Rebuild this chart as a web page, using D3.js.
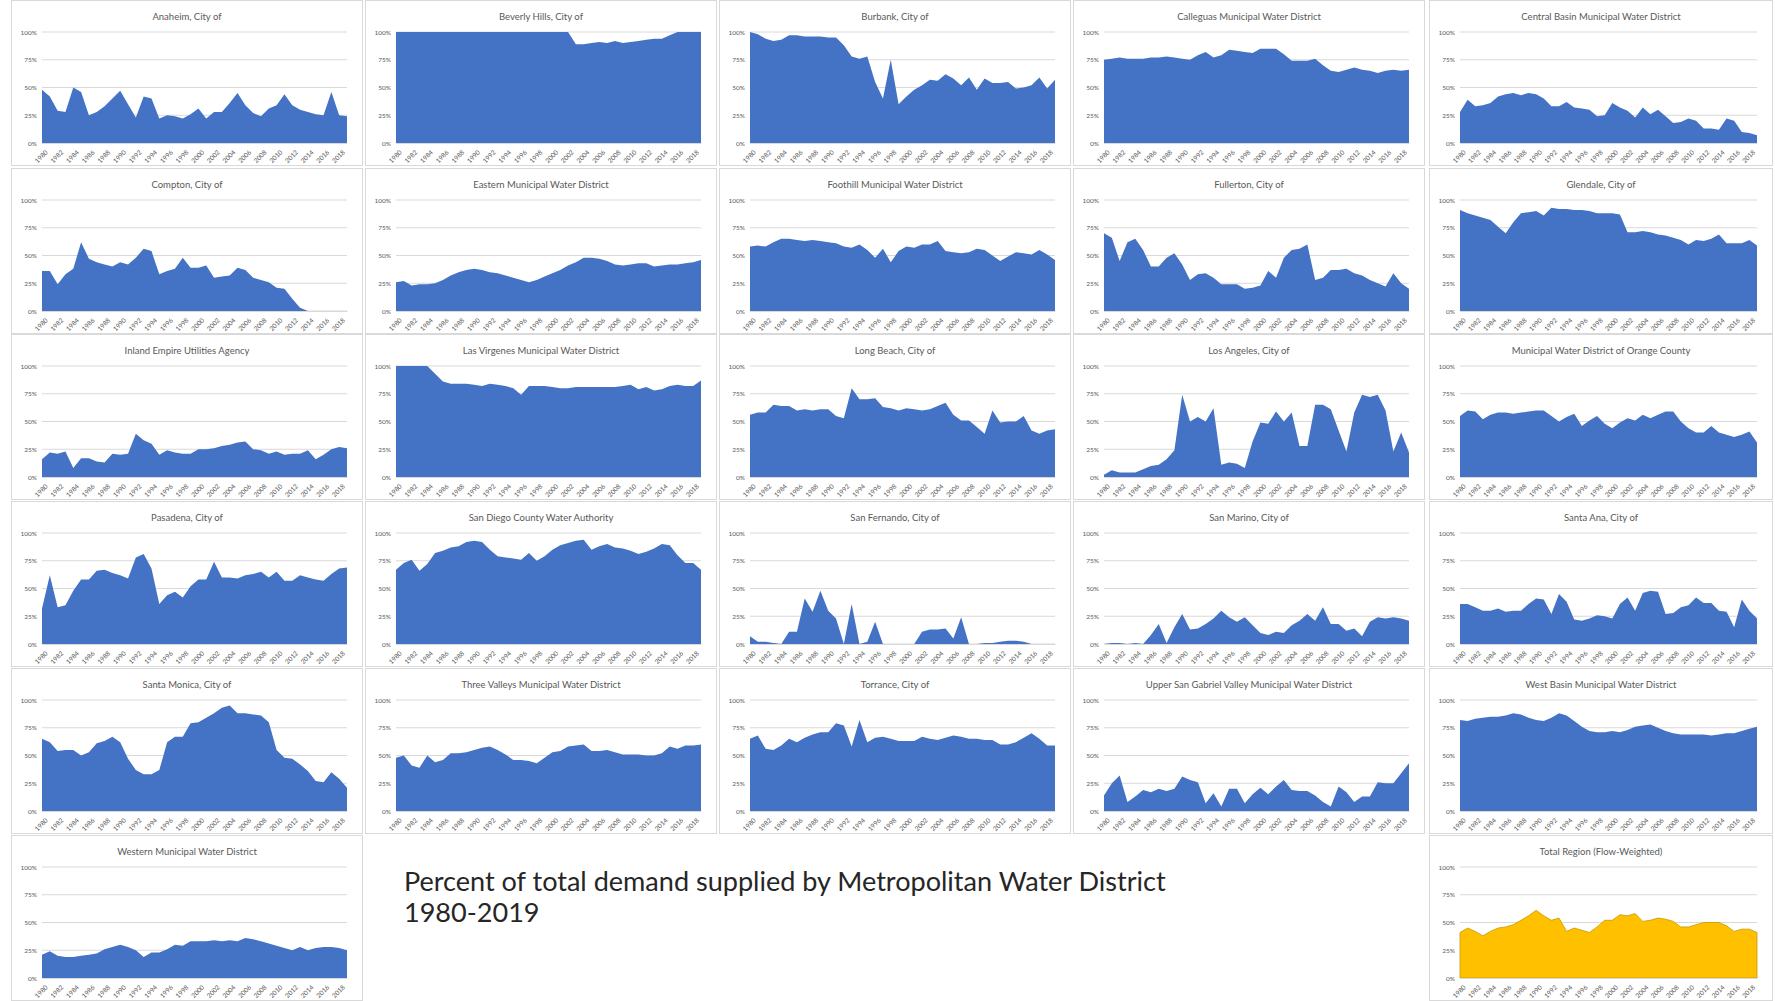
<!DOCTYPE html>
<html><head><meta charset="utf-8">
<script src="https://cdn.jsdelivr.net/npm/d3@7"></script>
<style>body{margin:0;background:#fff;} svg{display:block;}</style>
</head><body>
<script>
const years = [1980,1981,1982,1983,1984,1985,1986,1987,1988,1989,1990,1991,1992,1993,1994,1995,1996,1997,1998,1999,
2000,2001,2002,2003,2004,2005,2006,2007,2008,2009,2010,2011,2012,2013,2014,2015,2016,2017,2018,2019];
const yTicks = [0, 25, 50, 75, 100];

const anaheim = [48,42,29,28,50,46,25,28,33,40,47,35,23,42,40,22,25,24,22,26,31,22,28,28,36,45,34,27,24,31,34,44,34,30,28,26,25,46,25,24];
const beverlyHills = [100,100,100,100,100,100,100,100,100,100,100,100,100,100,100,100,100,100,100,100,100,100,100,89,89,90,91,90,92,90,91,92,93,94,94,97,100,100,100,100];
const burbank = [100,98,94,92,93,97,97,96,96,96,95,95,88,78,76,78,55,40,75,35,42,48,52,57,56,62,58,52,59,48,58,54,54,55,49,50,52,59,49,57];
const calleguas = [75,76,77,76,76,76,77,77,78,77,76,75,79,82,77,79,84,83,82,81,85,85,85,80,74,74,74,76,70,65,64,66,68,66,65,63,65,66,65,66];
const centralBasin = [28,39,33,34,36,42,44,45,43,45,44,40,33,33,37,32,31,30,24,25,36,32,29,23,32,26,30,24,18,19,22,20,13,13,12,22,20,10,9,7];
const compton = [36,36,24,33,38,62,47,44,42,40,44,42,48,56,54,33,36,38,48,39,39,41,30,31,32,39,37,30,28,26,21,20,11,3,0,0,0,0,0,0];
const eastern = [26,27,23,24,24,25,28,32,35,37,38,37,35,34,32,30,28,26,28,31,34,37,41,44,48,48,47,45,42,41,42,43,43,40,41,42,42,43,44,46];
const foothill = [58,59,58,62,65,65,64,63,64,63,62,61,58,57,60,55,48,56,44,54,58,57,60,60,63,54,53,52,53,56,55,50,45,49,53,52,51,55,51,46];
const fullerton = [70,66,45,62,65,55,40,40,48,52,42,28,33,34,30,24,24,24,20,21,23,36,30,48,55,56,60,28,30,37,37,38,34,32,28,25,22,34,25,20];
const glendale = [91,88,86,84,82,76,70,80,88,89,90,86,93,92,92,91,91,90,88,88,88,87,71,71,72,71,69,68,66,64,60,64,63,65,69,61,61,61,64,59];
const inlandEmpire = [16,22,21,23,8,17,17,14,13,21,20,21,39,33,30,20,24,22,21,21,25,25,26,28,29,31,32,25,24,21,23,20,21,21,24,16,20,25,27,26];
const lasVirgenes = [100,100,100,100,100,93,86,84,84,84,83,82,84,83,82,80,74,82,82,82,81,80,80,81,81,81,81,81,81,82,83,79,81,78,79,82,83,82,82,87];
const longBeach = [56,58,58,65,64,64,60,61,60,61,61,55,53,80,70,70,71,63,62,60,62,61,60,61,64,67,56,51,51,45,39,60,49,50,50,55,42,39,42,43];
const losAngeles = [2,6,4,4,4,7,10,11,16,24,74,50,54,50,62,11,13,12,8,32,49,48,59,50,58,28,28,65,65,61,42,23,58,74,72,74,60,23,40,22];
const orangeCounty = [55,60,59,52,56,58,58,57,58,59,60,60,55,50,54,57,46,51,55,48,44,49,53,51,56,53,56,59,59,50,44,40,40,46,40,38,36,38,41,31];
const pasadena = [32,62,33,35,48,58,58,66,67,64,62,59,78,81,68,36,44,47,42,52,58,58,74,60,60,59,62,63,65,60,65,57,57,62,60,58,57,63,68,69];
const sanDiego = [67,73,76,66,72,82,84,87,88,92,93,92,85,79,78,77,76,82,75,79,85,89,91,93,94,85,88,90,87,86,84,81,83,86,90,89,80,73,73,67];
const sanFernando = [7,2,2,1,0,11,11,41,29,48,30,23,0,36,0,2,20,0,0,0,0,0,11,13,13,14,5,24,0,0,1,1,2,3,3,2,0,0,0,0];
const sanMarino = [0,1,1,0,1,0,8,18,1,15,27,13,14,18,23,30,24,20,24,17,10,8,11,10,17,21,27,21,33,18,18,12,14,7,20,24,23,24,23,21];
const santaAna = [36,36,33,30,30,32,29,30,30,36,41,40,27,45,38,22,21,23,26,25,23,36,42,30,46,48,47,27,28,33,35,42,37,37,30,29,15,40,30,23];
const santaMonica = [65,62,54,55,55,50,53,61,63,67,62,47,37,33,33,37,62,67,67,79,80,84,88,93,95,88,88,87,86,80,55,48,47,42,36,27,26,35,29,21];
const threeValleys = [48,50,41,39,50,44,46,52,52,53,55,57,58,55,51,46,46,45,43,48,53,54,58,59,60,54,54,55,53,51,51,51,50,50,52,58,56,59,59,60];
const torrance = [65,68,56,55,59,65,62,66,69,71,71,79,77,58,82,62,66,67,65,63,63,63,67,65,64,66,68,67,65,65,64,64,60,60,62,66,70,65,59,59];
const upperSanGabriel = [14,25,32,8,13,19,17,20,18,20,31,28,26,7,16,4,20,20,7,15,21,15,22,28,19,18,18,14,8,4,22,17,8,13,13,26,25,25,34,43];
const westBasin = [82,81,83,84,85,85,86,88,87,84,82,81,84,88,86,81,76,72,71,71,72,71,73,76,77,78,75,72,70,69,69,69,69,68,69,70,70,72,74,76];
const western = [21,24,20,19,19,20,21,22,26,28,30,28,25,19,23,23,26,30,29,33,33,33,34,33,34,33,36,35,33,31,29,27,25,28,25,27,28,28,27,25];
const totalRegion = [41,45,42,38,42,45,46,48,52,56,61,56,52,54,42,45,43,41,46,52,52,57,56,58,51,52,54,53,51,46,46,48,50,50,50,47,42,44,44,41];

const titles = ["Anaheim, City of","Beverly Hills, City of","Burbank, City of","Calleguas Municipal Water District","Central Basin Municipal Water District",
"Compton, City of","Eastern Municipal Water District","Foothill Municipal Water District","Fullerton, City of","Glendale, City of",
"Inland Empire Utilities Agency","Las Virgenes Municipal Water District","Long Beach, City of","Los Angeles, City of","Municipal Water District of Orange County",
"Pasadena, City of","San Diego County Water Authority","San Fernando, City of","San Marino, City of","Santa Ana, City of",
"Santa Monica, City of","Three Valleys Municipal Water District","Torrance, City of","Upper San Gabriel Valley Municipal Water District","West Basin Municipal Water District",
"Western Municipal Water District","Total Region (Flow-Weighted)"];
const seriesList = [anaheim,beverlyHills,burbank,calleguas,centralBasin,compton,eastern,foothill,fullerton,glendale,
inlandEmpire,lasVirgenes,longBeach,losAngeles,orangeCounty,pasadena,sanDiego,sanFernando,sanMarino,santaAna,
santaMonica,threeValleys,torrance,upperSanGabriel,westBasin,western,totalRegion];
const mainTitle1 = "Percent of total demand supplied by Metropolitan Water District";
const mainTitle2 = "1980-2019";

const W = 1775, H = 1001;
const colX = [11, 365, 719, 1073, 1429];
const rowY = [0, 168, 334, 501, 668, 835];
const panelW = 352, panelH = 166;
const m = {left: 31, right: 16, top: 32, bottom: 23};
const fontFam = "Lato, 'Open Sans', sans-serif";

const svg = d3.select("body").append("svg").attr("width", W).attr("height", H);
svg.append("rect").attr("width", W).attr("height", H).attr("fill", "#fff");

const cells = [];
for (let r = 0; r < 5; r++) for (let c = 0; c < 5; c++) cells.push([c, r]);
cells.push([0, 5]); cells.push([4, 5]);

seriesList.forEach((vals, k) => {
  const [c, r] = cells[k];
  const x0 = colX[c], y0 = rowY[r];
  const isTotal = k === seriesList.length - 1;
  const pw = (c === 4) ? (W - x0 - 2) : panelW;
  const g = svg.append("g").attr("transform", `translate(${x0},${y0})`);
  g.append("rect").attr("x", 0.5).attr("y", 0.5).attr("width", pw - 1).attr("height", panelH - 1)
    .attr("fill", "#fff").attr("stroke", "#d9d9d9");
  const iw = pw - m.left - m.right, ih = panelH - m.top - m.bottom;
  const x = d3.scalePoint().domain(years).range([0, iw]);
  const y = d3.scaleLinear().domain([0, 100]).range([ih, 0]);
  const plot = g.append("g").attr("transform", `translate(${m.left},${m.top})`);
  plot.selectAll("line.grid").data(yTicks).join("line").attr("class", "grid")
    .attr("x1", 0).attr("x2", iw).attr("y1", d => y(d)).attr("y2", d => y(d))
    .attr("stroke", "#d9d9d9").attr("stroke-width", 1);
  const ya = plot.append("g").call(d3.axisLeft(y).tickValues(yTicks).tickSize(0).tickPadding(5).tickFormat(d => d + "%"));
  ya.select(".domain").remove();
  ya.selectAll("text").attr("font-size", 6.5).attr("fill", "#595959").attr("font-family", fontFam);
  const area = d3.area().x((d, i) => x(years[i])).y0(y(0)).y1(d => y(d));
  plot.append("path").datum(vals).attr("d", area)
    .attr("fill", isTotal ? "#FFC000" : "#4472C4")
    .attr("stroke", isTotal ? "#C99700" : "none").attr("stroke-width", 0.8);
  const xa = plot.append("g").attr("transform", `translate(0,${ih})`)
    .call(d3.axisBottom(x).tickValues(years.filter((d, i) => i % 2 === 0)).tickSize(0).tickPadding(3));
  xa.select(".domain").attr("stroke", "#d9d9d9");
  xa.selectAll("text").attr("font-size", 6.5).attr("fill", "#595959").attr("font-family", fontFam)
    .attr("text-anchor", "end").attr("dy", "0.35em")
    .attr("transform", "translate(2,6) rotate(-45)");
  g.append("text").attr("x", pw / 2).attr("y", 20).attr("text-anchor", "middle")
    .attr("font-size", 9.5).attr("fill", "#595959").attr("font-family", fontFam).text(titles[k]);
});

const t1 = svg.append("text").attr("x", 404).attr("y", 891).attr("font-family", fontFam)
  .attr("font-size", 24).attr("fill", "#262626").text(mainTitle1);
const len = t1.node().getComputedTextLength();
const fs = 24 * 762 / len;
t1.attr("font-size", fs);
svg.append("text").attr("x", 404).attr("y", 922).attr("font-family", fontFam)
  .attr("font-size", fs).attr("fill", "#262626").text(mainTitle2);
</script>
</body></html>
